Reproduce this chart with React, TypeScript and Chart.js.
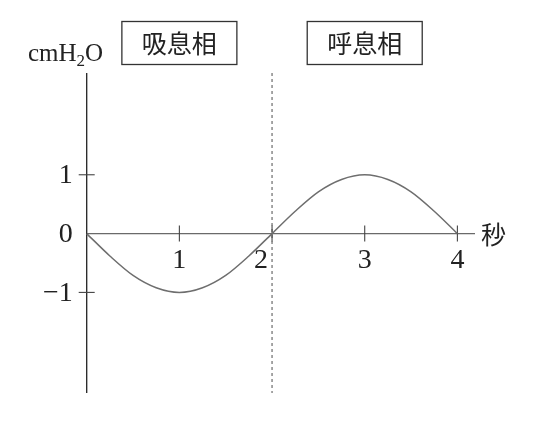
import React, { useEffect, useRef } from "react";
import { Chart, registerables } from "chart.js";

Chart.register(...registerables);

const timeValues = [0, 0.25, 0.5, 0.75, 1, 1.25, 1.5, 1.75, 2, 2.25, 2.5, 2.75, 3, 3.25, 3.5, 3.75, 4];
const pressureValues = [0, -0.38, -0.71, -0.92, -1, -0.92, -0.71, -0.38, 0, 0.38, 0.71, 0.92, 1, 0.92, 0.71, 0.38, 0];
const xTickValues = [1, 2, 3, 4];
const xTickLabels = ["1", "2", "3", "4"];
const yTickValues = [1, 0, -1];
const yTickLabels = ["1", "0", "\u22121"];
const phaseLabels = ["吸息相", "呼息相"];
const phaseCenters = [1, 3];
const phaseDivider = 2;
const xUnitLabel = "秒";

const SERIF = '"Liberation Serif", "DejaVu Serif", serif';
const CJK = '"Noto Sans CJK JP", "Noto Sans CJK SC", sans-serif';

const axesPlugin = {
  id: "customAxes",
  beforeDatasetsDraw(chart: any) {
    const ctx = chart.ctx as CanvasRenderingContext2D;
    const xs = chart.scales.x;
    const ys = chart.scales.y;
    const x0 = xs.getPixelForValue(0);
    const xEnd = xs.getPixelForValue(xs.max);
    const y0 = ys.getPixelForValue(0);
    const yTop = ys.getPixelForValue(ys.max);
    const yBot = ys.getPixelForValue(ys.min);
    ctx.save();
    // dashed divider
    const xd = xs.getPixelForValue(phaseDivider);
    ctx.strokeStyle = "#808080";
    ctx.lineWidth = 1.4;
    ctx.setLineDash([3, 3]);
    ctx.beginPath();
    ctx.moveTo(xd, yTop);
    ctx.lineTo(xd, yBot);
    ctx.stroke();
    ctx.setLineDash([]);
    // x axis
    ctx.strokeStyle = "#6a6a6a";
    ctx.lineWidth = 1.3;
    ctx.beginPath();
    ctx.moveTo(x0, y0);
    ctx.lineTo(xEnd, y0);
    ctx.stroke();
    // y axis
    ctx.strokeStyle = "#222";
    ctx.lineWidth = 1.3;
    ctx.beginPath();
    ctx.moveTo(x0, yTop);
    ctx.lineTo(x0, yBot);
    ctx.stroke();
    // x ticks
    ctx.strokeStyle = "#444";
    ctx.lineWidth = 1.1;
    xTickValues.forEach((v) => {
      const px = xs.getPixelForValue(v);
      ctx.beginPath();
      ctx.moveTo(px, y0 - 8);
      ctx.lineTo(px, y0 + 8);
      ctx.stroke();
    });
    // y ticks
    yTickValues.forEach((v) => {
      if (v === 0) return;
      const py = ys.getPixelForValue(v);
      ctx.beginPath();
      ctx.moveTo(x0 - 8, py);
      ctx.lineTo(x0 + 8, py);
      ctx.stroke();
    });
    // labels
    ctx.fillStyle = "#222";
    ctx.font = `28px ${SERIF}`;
    ctx.textBaseline = "middle";
    ctx.textAlign = "center";
    xTickValues.forEach((v, i) => {
      let px = xs.getPixelForValue(v);
      if (v === phaseDivider) px -= 11;
      ctx.fillText(xTickLabels[i], px, y0 + 27);
    });
    ctx.textAlign = "right";
    yTickValues.forEach((v, i) => {
      const py = ys.getPixelForValue(v);
      ctx.fillText(yTickLabels[i], x0 - 14, py + 1);
    });
    // unit label cmH2O
    ctx.textBaseline = "alphabetic";
    ctx.textAlign = "left";
    ctx.font = `25px ${SERIF}`;
    let tx = 28;
    const base = 61;
    ctx.fillText("cmH", tx, base);
    tx += ctx.measureText("cmH").width;
    ctx.font = `17px ${SERIF}`;
    ctx.fillText("2", tx, base + 5);
    tx += ctx.measureText("2").width;
    ctx.font = `25px ${SERIF}`;
    ctx.fillText("O", tx, base);
    // x unit
    ctx.font = `25px ${CJK}`;
    ctx.textBaseline = "middle";
    ctx.fillText(xUnitLabel, xEnd + 6, y0 + 1);
    // phase boxes
    ctx.strokeStyle = "#333";
    ctx.lineWidth = 1.3;
    phaseLabels.forEach((lab, i) => {
      const cx = xs.getPixelForValue(phaseCenters[i]);
      ctx.strokeRect(cx - 57.5, 21.5, 115, 43);
      ctx.textAlign = "center";
      ctx.font = `25px ${CJK}`;
      ctx.fillText(lab, cx, 43.5);
    });
    ctx.restore();
  },
};

export default function App() {
  const ref = useRef<HTMLCanvasElement | null>(null);
  useEffect(() => {
    if (!ref.current) return;
    const chart = new Chart(ref.current, {
      type: "line",
      data: {
        datasets: [
          {
            data: timeValues.map((t, i) => ({ x: t, y: pressureValues[i] })),
            borderColor: "#6e6e6e",
            borderWidth: 1.5,
            pointRadius: 0,
            cubicInterpolationMode: "monotone",
            fill: false,
            clip: false as any,
          },
        ],
      },
      options: {
        animation: false,
        responsive: false,
        devicePixelRatio: 1,
        layout: { padding: { left: 86.7, right: 62, top: 73, bottom: 28 } },
        plugins: { legend: { display: false }, tooltip: { enabled: false } },
        scales: {
          x: { type: "linear", min: 0, max: 4.19, display: false },
          y: { type: "linear", min: -2.71, max: 2.73, display: false },
        },
      },
      plugins: [axesPlugin],
    });
    return () => chart.destroy();
  }, []);
  return (
    <div style={{ position: "fixed", left: 0, top: 0, width: 537, height: 421, background: "#fff" }}>
      <canvas ref={ref} width={537} height={421} style={{ width: 537, height: 421 }} />
    </div>
  );
}
